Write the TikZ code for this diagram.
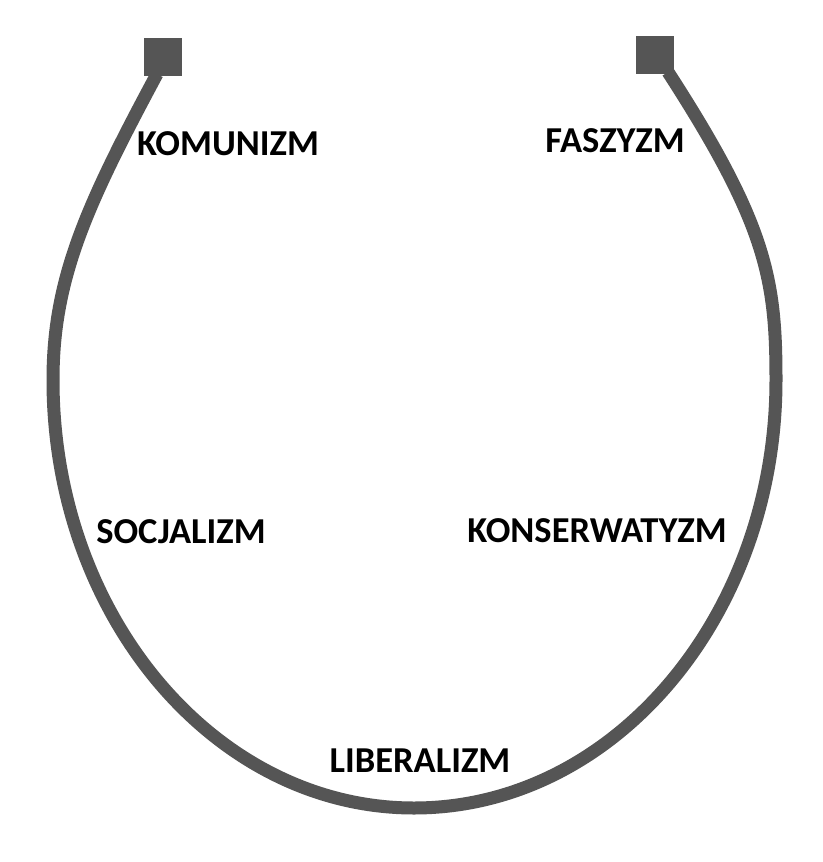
\documentclass[tikz,border=0pt]{standalone}
\usepackage{fontspec}
\setmainfont{Carlito}
\begin{document}
\begin{tikzpicture}[x=1pt,y=-1pt]
\definecolor{ring}{RGB}{85,85,85}
\tikzset{
  ideo/.style={font=\fontsize{36.5}{40}\selectfont\bfseries, inner sep=0pt, anchor=base, text=black},
  endsq/.style={fill=ring, draw=none, minimum size=38pt, inner sep=0pt},
  ringline/.style={draw=ring, line width=13pt}
}
\useasboundingbox (0,0) rectangle (822,862);
\fill[white] (0,0) rectangle (822,862);
\coordinate (lstart) at (157,74);
\coordinate (lmid) at (53,380);
\coordinate (bot) at (414,808);
\coordinate (rmid) at (776,380);
\coordinate (rstart) at (668,72);
\draw[ringline] (lstart) .. controls (85,208) and (53,280) .. (lmid)
  .. controls (53,616) and (215,808) .. (bot)
  .. controls (614,808) and (776,616) .. (rmid)
  .. controls (776,280) and (767,225) .. (rstart);
\node[endsq] (lsq) at (163,57) {};
\node[endsq] (rsq) at (655,55) {};
\node[ideo] (kom) at (228,155) {KOMUNIZM};
\node[ideo] (fas) at (615,152) {FASZYZM};
\node[ideo] (soc) at (181,543) {SOCJALIZM};
\node[ideo] (kon) at (597,542) {KONSERWATYZM};
\node[ideo] (lib) at (420,772) {LIBERALIZM};
\end{tikzpicture}
\end{document}
